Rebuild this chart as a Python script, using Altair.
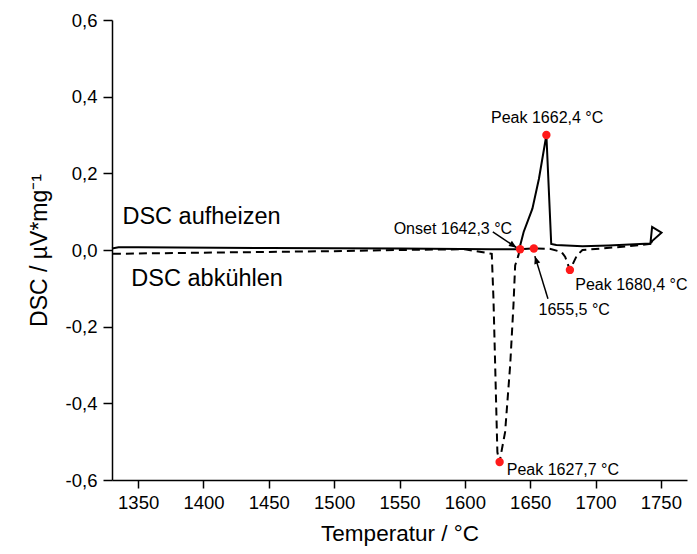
import altair as alt
import pandas as pd

# ---- data ----
heat_T = [1330, 1335, 1350, 1450, 1550, 1620, 1641.6, 1645, 1651.7, 1656.7, 1662.4,
          1666.1, 1670, 1690, 1710, 1730, 1742, 1743.3, 1750.5, 1743.5, 1742.5]
heat_DSC = [0.004, 0.007, 0.007, 0.005, 0.004, 0.002, 0.002, 0.047, 0.108, 0.186, 0.30,
            0.016, 0.013, 0.010, 0.012, 0.015, 0.017, 0.060, 0.045, 0.024, 0.018]

cool_T = [1742.5, 1725, 1705, 1690, 1685.8, 1680.4, 1676.8, 1674, 1665, 1652.5, 1642,
          1641, 1638.5, 1637.2, 1634.7, 1630.8, 1627, 1626.4, 1624.9, 1624.5, 1623.2,
          1621.9, 1620.6, 1600, 1550, 1500, 1450, 1400, 1350, 1330]
cool_DSC = [0.016, 0.010, 0.004, 0.000, -0.014, -0.052, -0.018, -0.005, 0.003, 0.004, 0.002,
            -0.014, -0.040, -0.144, -0.300, -0.475, -0.545, -0.553, -0.527, -0.475, -0.300,
            -0.127, -0.010, 0.002, 0.000, -0.003, -0.005, -0.007, -0.009, -0.010]

dot_T = [1642.3, 1662.4, 1652.8, 1680.4, 1626.6]
dot_DSC = [0.002, 0.300, 0.004, -0.052, -0.553]

ann_text = ["Peak 1662,4 °C", "Onset 1642,3 °C", "1655,5 °C", "Peak 1680,4 °C", "Peak 1627,7 °C"]
ann_T = [1663.0, 1636.2, 1656.4, 1684.5, 1632.1]
ann_DSC = [0.344, 0.055, -0.157, -0.092, -0.574]
ann_align = ["center", "right", "left", "left", "left"]

lab_text = ["DSC aufheizen", "DSC abkühlen"]
lab_T = [1338, 1344.8]
lab_DSC = [0.086, -0.076]

arrow_T = [1621.4, 1663.6]
arrow_DSC = [0.047, -0.127]
arrow_T2 = [1639.6, 1653.6]
arrow_DSC2 = [0.006, -0.016]
arrow_angle = [124, 342]

x_ticks = list(range(1350, 1751, 25))
y_ticks = [round(-0.6 + 0.1 * i, 1) for i in range(13)]

# ---- frames ----
heat = pd.DataFrame({"T": heat_T, "DSC": heat_DSC, "o": range(len(heat_T))})
cool = pd.DataFrame({"T": cool_T, "DSC": cool_DSC, "o": range(len(cool_T))})
dots = pd.DataFrame({"T": dot_T, "DSC": dot_DSC})
ann = pd.DataFrame({"T": ann_T, "DSC": ann_DSC, "t": ann_text, "a": ann_align})
labs = pd.DataFrame({"T": lab_T, "DSC": lab_DSC, "t": lab_text})
arrows = pd.DataFrame({"T": arrow_T, "DSC": arrow_DSC, "T2": arrow_T2, "DSC2": arrow_DSC2,
                       "ang": arrow_angle})

FONT = "Liberation Sans"

xscale = alt.Scale(domain=[1330, 1770], nice=False, zero=False)
yscale = alt.Scale(domain=[-0.6, 0.6], nice=False, zero=False)

xaxis = alt.Axis(
    title="Temperatur / °C", values=x_ticks,
    labelExpr="datum.value % 50 === 0 ? datum.label : ''",
    tickSize={"condition": {"test": "datum.value % 50 === 0", "value": 8}, "value": 4},
    grid=False, domainColor="black", tickColor="black", domainWidth=1.5, tickWidth=1.5,
    labelFont=FONT, labelFontSize=18.5, labelColor="black", labelPadding=5,
    titleFont=FONT, titleFontSize=22.5, titleFontWeight="normal", titleColor="black",
    titlePadding=11, format="d",
)
yaxis = alt.Axis(
    title="DSC / µV*mg⁻¹", values=y_ticks,
    labelExpr="abs(round(datum.value*10)) % 2 === 0 ? replace(replace(format(datum.value, '.1f'), '.', ','), '−', '-') : ''",
    tickSize={"condition": {"test": "abs(round(datum.value*10)) % 2 === 0", "value": 9}, "value": 4},
    grid=False, domainColor="black", tickColor="black", domainWidth=1.5, tickWidth=1.5,
    labelFont=FONT, labelFontSize=18.5, labelColor="black", labelPadding=6,
    titleFont=FONT, titleFontSize=23, titleFontWeight="normal", titleColor="black",
    titlePadding=14,
)

base_x = alt.X("T:Q", scale=xscale, axis=xaxis)
base_y = alt.Y("DSC:Q", scale=yscale, axis=yaxis)

heat_line = alt.Chart(heat).mark_line(color="black", strokeWidth=2).encode(
    x=base_x, y=base_y, order="o:Q")
cool_line = alt.Chart(cool).mark_line(color="black", strokeWidth=2, strokeDash=[8, 5]).encode(
    x="T:Q", y="DSC:Q", order="o:Q")

arrow_lines = alt.Chart(arrows).mark_rule(color="black", strokeWidth=1.5).encode(
    x="T:Q", y="DSC:Q", x2="T2:Q", y2="DSC2:Q")
arrow_heads = alt.Chart(arrows).mark_point(
    shape="M0,0 L-0.4,1 L0.4,1 Z", filled=True, color="black", opacity=1, size=240
).encode(x="T2:Q", y="DSC2:Q", angle=alt.Angle("ang:Q", scale=None))

red_dots = alt.Chart(dots).mark_circle(color="#ff1a1a", opacity=1, size=70).encode(
    x="T:Q", y="DSC:Q")

ann_layers = []
for al in ["center", "right", "left"]:
    ann_layers.append(
        alt.Chart(ann[ann["a"] == al]).mark_text(
            align=al, baseline="middle", font=FONT, fontSize=16, color="black"
        ).encode(x="T:Q", y="DSC:Q", text="t:N")
    )

lab_layer = alt.Chart(labs).mark_text(
    align="left", baseline="middle", font=FONT, fontSize=23.5, color="black"
).encode(x="T:Q", y="DSC:Q", text="t:N")

chart = alt.layer(
    heat_line, cool_line, arrow_lines, arrow_heads, red_dots, *ann_layers, lab_layer
).properties(
    width=575, height=460,
    autosize=alt.AutoSizeParams(type="none"),
    padding={"left": 104, "top": 12, "right": 2, "bottom": 66},
    background="white",
).configure_view(stroke=None)

chart.save("out.html", embed_options={"renderer": "svg", "actions": False})
